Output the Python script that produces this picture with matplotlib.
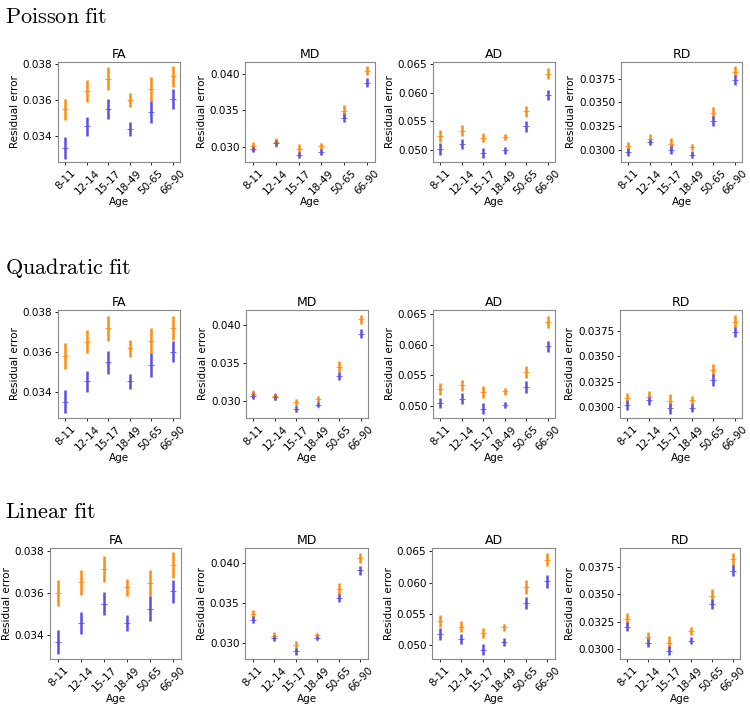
import matplotlib
matplotlib.use("Agg")
import matplotlib.pyplot as plt
import numpy as np

plt.rcParams['mathtext.fontset'] = 'cm'

ages = ["8-11", "12-14", "15-17", "18-49", "50-65", "66-90"]
metrics = ["FA", "MD", "AD", "RD"]
sections = ["Poisson fit", "Quadratic fit", "Linear fit"]

# ---- Poisson fit ----
poisson_orange = {
    "FA": [0.03548, 0.0365, 0.0372, 0.0360, 0.03662, 0.03733],
    "MD": [0.03013, 0.03067, 0.02978, 0.03013, 0.03495, 0.0404],
    "AD": [0.0525, 0.0534, 0.0522, 0.05227, 0.05676, 0.0633],
    "RD": [0.03035, 0.03114, 0.03062, 0.03028, 0.03387, 0.03823],
}
poisson_orange_err = {
    "FA": [0.0006, 0.0006, 0.00063, 0.0004, 0.00065, 0.0006],
    "MD": [0.0006, 0.0006, 0.0007, 0.0005, 0.0008, 0.0006],
    "AD": [0.001, 0.0009, 0.0008, 0.0005, 0.001, 0.001],
    "RD": [0.0005, 0.0005, 0.0006, 0.0003, 0.0006, 0.0006],
}
poisson_blue = {
    "FA": [0.0333, 0.03452, 0.03548, 0.03436, 0.03533, 0.03606],
    "MD": [0.0298, 0.0306, 0.02893, 0.02937, 0.03399, 0.03874],
    "AD": [0.05023, 0.0511, 0.04955, 0.04995, 0.05415, 0.0596],
    "RD": [0.02976, 0.0308, 0.0300, 0.02948, 0.03304, 0.03733],
}
poisson_blue_err = {
    "FA": [0.0006, 0.00055, 0.00055, 0.0004, 0.0006, 0.00057],
    "MD": [0.0004, 0.0004, 0.0004, 0.0004, 0.0006, 0.0006],
    "AD": [0.001, 0.00085, 0.00085, 0.0006, 0.001, 0.00095],
    "RD": [0.00045, 0.00035, 0.0005, 0.00035, 0.0005, 0.00055],
}
poisson_ylim = {"FA": (0.03252, 0.03813), "MD": (0.02798, 0.04157),
                "AD": (0.04795, 0.06534), "RD": (0.02869, 0.03926)}

# ---- Quadratic fit ----
quad_orange = {
    "FA": [0.0358, 0.0365, 0.03717, 0.03617, 0.03655, 0.03719],
    "MD": [0.03086, 0.03056, 0.02978, 0.03022, 0.03448, 0.0407],
    "AD": [0.05273, 0.05332, 0.05223, 0.05234, 0.05555, 0.0637],
    "RD": [0.03088, 0.03104, 0.03062, 0.03065, 0.03365, 0.03845],
}
quad_orange_err = {
    "FA": [0.00065, 0.00058, 0.00062, 0.00042, 0.00062, 0.0006],
    "MD": [0.00055, 0.00047, 0.0005, 0.00035, 0.0007, 0.0006],
    "AD": [0.001, 0.00095, 0.00095, 0.0006, 0.001, 0.001],
    "RD": [0.00055, 0.0005, 0.00064, 0.00044, 0.00062, 0.00064],
}
quad_blue = {
    "FA": [0.0335, 0.03451, 0.03547, 0.03451, 0.03534, 0.0360],
    "MD": [0.03065, 0.03043, 0.02892, 0.02948, 0.03323, 0.03884],
    "AD": [0.05044, 0.05115, 0.04951, 0.05005, 0.05305, 0.05973],
    "RD": [0.03023, 0.03065, 0.0299, 0.0299, 0.0327, 0.0374],
}
quad_blue_err = {
    "FA": [0.00058, 0.00054, 0.00058, 0.00036, 0.0006, 0.00053],
    "MD": [0.00047, 0.0004, 0.00043, 0.00032, 0.00056, 0.00056],
    "AD": [0.0009, 0.0009, 0.0009, 0.0005, 0.001, 0.00095],
    "RD": [0.0005, 0.0004, 0.00054, 0.00036, 0.00057, 0.0005],
}
quad_ylim = {"FA": (0.03268, 0.03808), "MD": (0.02772, 0.04194),
             "AD": (0.04798, 0.0657), "RD": (0.02892, 0.03959)}

# ---- Linear fit ----
lin_orange = {
    "FA": [0.0360, 0.03651, 0.03715, 0.03627, 0.03648, 0.03733],
    "MD": [0.03367, 0.03092, 0.02971, 0.03096, 0.03675, 0.04063],
    "AD": [0.0539, 0.0530, 0.05197, 0.05287, 0.05931, 0.06367],
    "RD": [0.03272, 0.0311, 0.03055, 0.03162, 0.03485, 0.03823],
}
lin_orange_err = {
    "FA": [0.00064, 0.0006, 0.00062, 0.00042, 0.00064, 0.00062],
    "MD": [0.0005, 0.00045, 0.00056, 0.00035, 0.0007, 0.00067],
    "AD": [0.001, 0.0009, 0.00085, 0.00053, 0.00115, 0.00105],
    "RD": [0.00054, 0.00046, 0.0006, 0.0004, 0.00065, 0.0006],
}
lin_blue = {
    "FA": [0.03365, 0.03456, 0.03549, 0.03456, 0.03525, 0.03608],
    "MD": [0.03292, 0.03063, 0.02896, 0.03063, 0.03563, 0.03908],
    "AD": [0.05181, 0.05101, 0.04931, 0.05053, 0.05676, 0.06021],
    "RD": [0.03204, 0.03055, 0.02983, 0.03075, 0.0341, 0.0372],
}
lin_blue_err = {
    "FA": [0.00058, 0.00052, 0.00056, 0.00038, 0.0006, 0.00056],
    "MD": [0.0004, 0.0004, 0.0004, 0.0003, 0.0005, 0.0006],
    "AD": [0.00093, 0.0008, 0.0009, 0.0006, 0.001, 0.001],
    "RD": [0.00043, 0.0004, 0.00043, 0.00032, 0.00046, 0.0005],
}
lin_ylim = {"FA": (0.03283, 0.03816), "MD": (0.0280, 0.04188),
            "AD": (0.04782, 0.06553), "RD": (0.02905, 0.03928)}

ticks = {
    "FA": [0.034, 0.036, 0.038],
    "MD": [0.030, 0.035, 0.040],
    "AD": [0.050, 0.055, 0.060, 0.065],
    "RD": [0.0300, 0.0325, 0.0350, 0.0375],
}
tick_fmt = {"FA": "{:.3f}", "MD": "{:.3f}", "AD": "{:.3f}", "RD": "{:.4f}"}

orange = "#ff8c0a"
blue = "#5b50e6"

W, H = 750, 707
fig = plt.figure(figsize=(W / 100, H / 100), dpi=100)

# pixel layout: (left, right) per column, (top, bottom) per row
row_boxes = [
    ([(58, 180), (245, 375), (433, 555), (621, 742)], (62, 162)),
    ([(58, 180), (246, 368), (433, 555), (620, 742)], (310, 418)),
    ([(50, 181), (245, 368), (432, 555), (620, 740)], (548, 659)),
]
section_y = [17, 268, 512]

data = [
    (poisson_orange, poisson_orange_err, poisson_blue, poisson_blue_err, poisson_ylim),
    (quad_orange, quad_orange_err, quad_blue, quad_blue_err, quad_ylim),
    (lin_orange, lin_orange_err, lin_blue, lin_blue_err, lin_ylim),
]

x = np.arange(len(ages))
for r, (o, oe, b, be, yl) in enumerate(data):
    cols, (top, bot) = row_boxes[r]
    fig.text(5 / W, 1 - section_y[r] / H, r"$\mathrm{%s}$" % sections[r].replace(" ", r"\ "),
             fontsize=16, ha="left", va="center")
    for c, m in enumerate(metrics):
        l, rr = cols[c]
        ax = fig.add_axes([l / W, 1 - bot / H, (rr - l) / W, (bot - top) / H])
        ax.errorbar(x, o[m], yerr=oe[m], fmt="+", color=orange, ecolor=orange,
                    elinewidth=1.8, markersize=4, markeredgewidth=0.6, capsize=0)
        ax.errorbar(x, b[m], yerr=be[m], fmt="+", color=blue, ecolor=blue,
                    elinewidth=1.8, markersize=4, markeredgewidth=0.6, capsize=0)
        ax.set_xlim(-0.35, 5.35)
        ax.set_ylim(*yl[m])
        ax.set_xticks(x)
        ax.set_xticklabels(ages, rotation=45, fontsize=7.5)
        ax.set_yticks(ticks[m])
        ax.set_yticklabels([tick_fmt[m].format(t) for t in ticks[m]], fontsize=7.5)
        ax.set_title(m, fontsize=9, pad=3)
        ax.set_xlabel("Age", fontsize=7.5, labelpad=1)
        ax.set_ylabel("Residual error", fontsize=7.5, labelpad=2)
        ax.tick_params(length=2.5, width=0.6, pad=1.5)
        for s in ax.spines.values():
            s.set_color("#888888")
            s.set_linewidth(0.8)

fig.savefig("out.png", dpi=100)
